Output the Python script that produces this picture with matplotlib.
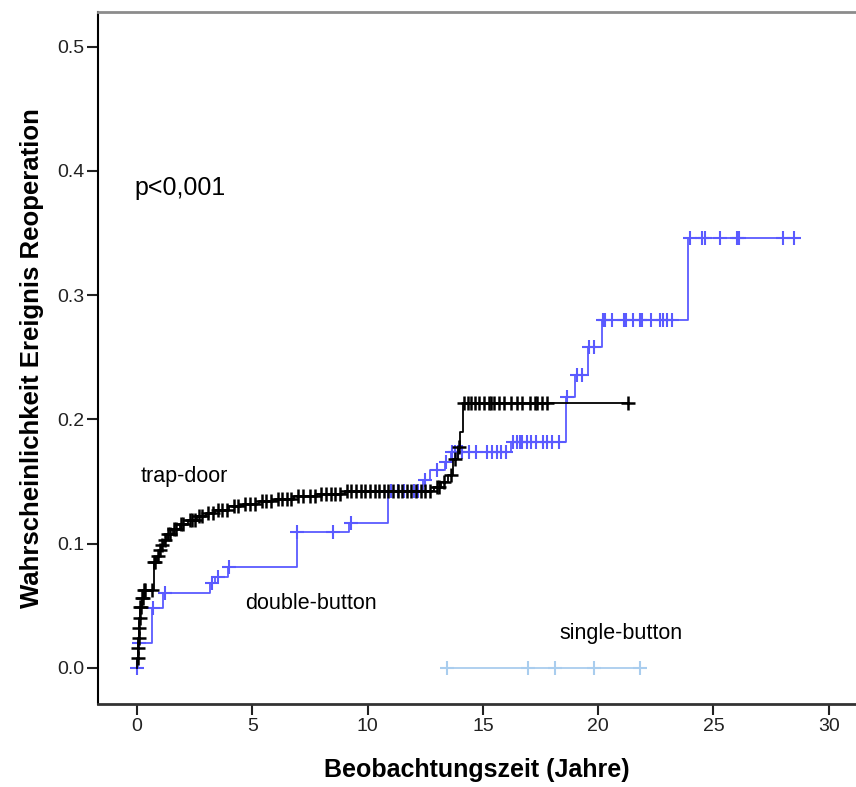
import matplotlib
matplotlib.use('agg')
import matplotlib.pyplot as plt
import numpy as np

# trap-door: Ereigniszeiten und kumulative Wahrscheinlichkeit
trap_t = [0.0, 0.02, 0.04, 0.06, 0.08, 0.10, 0.12, 0.20, 0.28, 0.74, 0.85, 0.95,
          1.05, 1.15, 1.30, 1.55, 1.85, 2.2, 2.6, 3.0, 3.4, 4.0, 4.6, 5.3, 6.0,
          6.8, 7.8, 9.0, 12.9, 13.2, 13.5, 13.7, 13.9, 14.0, 14.15]
trap_p = [0.0, 0.008, 0.016, 0.024, 0.032, 0.040, 0.049, 0.056, 0.063, 0.085,
          0.090, 0.095, 0.099, 0.103, 0.108, 0.112, 0.116, 0.119, 0.122, 0.125,
          0.127, 0.130, 0.132, 0.134, 0.136, 0.138, 0.140, 0.142, 0.146, 0.150,
          0.155, 0.168, 0.178, 0.190, 0.213]
trap_cens = [0.03, 0.05, 0.07, 0.09, 0.11, 0.14, 0.17, 0.22, 0.25, 0.30, 0.35,
             0.65, 0.75, 0.8, 0.9, 1.0, 1.1, 1.2, 1.35, 1.45, 1.6, 1.7, 1.9, 2.0,
             2.3, 2.4, 2.5, 2.7, 2.8, 3.1, 3.3, 3.5, 3.7, 3.9, 4.2, 4.4, 4.7, 4.9,
             5.1, 5.4, 5.6, 5.8, 6.1, 6.3, 6.5, 6.7, 7.0, 7.2, 7.5, 7.7, 8.0, 8.2,
             8.4, 8.6, 8.8, 9.1, 9.3, 9.5, 9.7, 9.9, 10.1, 10.3, 10.5, 10.7, 10.9,
             11.1, 11.3, 11.5, 11.7, 11.9, 12.1, 12.3, 12.5, 12.7, 13.0, 13.1,
             13.3, 13.6, 13.8, 13.95,
             14.2, 14.35, 14.5, 14.65, 14.85, 15.05, 15.25, 15.35, 15.5, 15.7,
             15.9, 16.2, 16.5, 16.7, 17.05, 17.25, 17.35, 17.55, 17.8, 21.3]

# double-button
dbl_t = [0.0, 0.05, 0.65, 1.13, 3.17, 3.38, 3.95, 6.94, 9.2, 10.9, 12.4, 12.7,
         13.36, 13.6, 16.2, 18.6, 19.0, 19.56, 20.16, 23.9]
dbl_p = [0.0, 0.020, 0.048, 0.060, 0.068, 0.073, 0.081, 0.109, 0.117, 0.142,
         0.151, 0.159, 0.166, 0.174, 0.182, 0.218, 0.236, 0.258, 0.280, 0.346]
dbl_cens = [0.0, 0.1, 0.7, 1.2, 3.25, 3.5, 4.0, 6.95, 8.5, 9.3,
            11.0, 11.3, 11.6, 12.0, 12.2, 12.5, 13.0, 13.4,
            13.65, 13.8, 13.9, 14.1, 14.4, 14.7, 15.2, 15.4, 15.6, 15.8, 16.0,
            16.3, 16.5, 16.6, 16.7, 16.9, 17.1, 17.3, 17.6, 17.8, 18.0, 18.3,
            18.65, 19.1, 19.3, 19.6, 19.8,
            20.2, 20.3, 20.6, 21.1, 21.2, 21.5, 21.8, 21.9, 22.3, 22.7, 22.8,
            23.0, 23.2, 24.0, 24.5, 24.65, 25.3, 26.0, 26.1, 28.0, 28.5]

# single-button (keine Ereignisse)
sgl_t = [13.44]
sgl_p = [0.0]
sgl_cens = [13.44, 16.96, 18.13, 19.82, 21.81]

plt.rcParams['font.family'] = ['Liberation Sans', 'DejaVu Sans']


def step_value(t, p, x):
    idx = np.searchsorted(t, x, side='right') - 1
    return np.asarray(p)[np.clip(idx, 0, None)]


def km_curve(ax, t, p, cens, color, lw=1.3, ms=10, mew=1.5):
    t_end = max(max(t), max(cens))
    xs = list(t) + [t_end]
    ys = list(p) + [p[-1]]
    ax.step(xs, ys, where='post', color=color, lw=lw)
    ax.plot(cens, step_value(t, p, cens), ls='none', marker='+',
            ms=ms, mew=mew, color=color)


fig = plt.figure(figsize=(8.56, 7.87), dpi=100)
ax = fig.add_axes([0.1145, 0.1055, 0.8855, 0.8795])

km_curve(ax, sgl_t, sgl_p, sgl_cens, '#a9cdee')
km_curve(ax, dbl_t, dbl_p, dbl_cens, '#5a5aff')
km_curve(ax, trap_t, trap_p, trap_cens, '#000000', ms=10, mew=1.8)

ax.set_xlim(-1.69, 31.18)
ax.set_ylim(-0.029, 0.528)
ax.set_xticks(np.arange(0, 31, 5))
ax.set_yticks(np.arange(0, 0.51, 0.1))
ax.set_yticklabels(['0.0', '0.1', '0.2', '0.3', '0.4', '0.5'])

ax.spines['right'].set_visible(False)
ax.spines['top'].set_color('#8c8c8c')
ax.spines['top'].set_linewidth(2)
ax.spines['left'].set_linewidth(1.5)
ax.spines['bottom'].set_color('#333333')
ax.spines['bottom'].set_linewidth(2)
ax.tick_params(direction='out', length=8, width=1.5, labelsize=14,
               colors='#222222', pad=2)

ax.set_xlabel('Beobachtungszeit (Jahre)', fontsize=18, fontweight='bold',
              labelpad=17)
ax.set_ylabel('Wahrscheinlichkeit Ereignis Reoperation', fontsize=18.5,
              fontweight='bold', labelpad=9)

ax.text(-0.1, 0.386, 'p<0,001', fontsize=18, va='center', ha='left')
ax.text(0.15, 0.154, 'trap-door', fontsize=15.5, va='center', ha='left')
ax.text(4.7, 0.052, 'double-button', fontsize=15.5, va='center', ha='left')
ax.text(18.3, 0.028, 'single-button', fontsize=15.5, va='center', ha='left')

plt.savefig('out.png', dpi=100)
